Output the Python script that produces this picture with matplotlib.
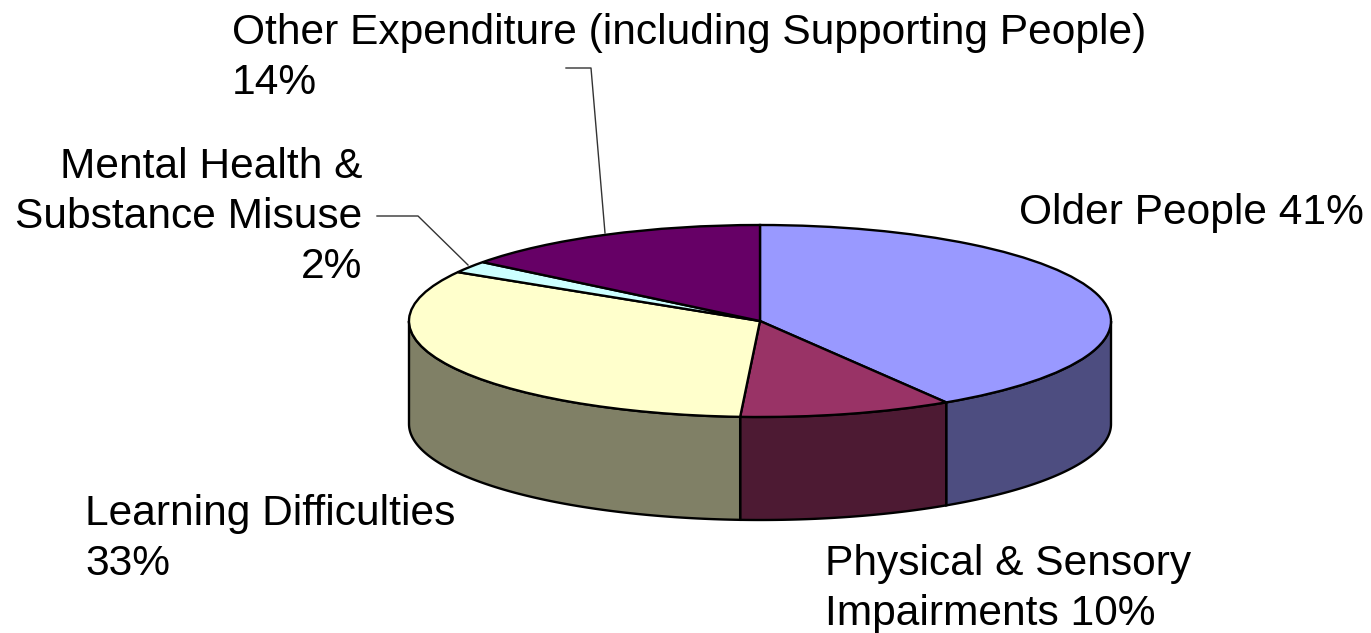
import matplotlib.pyplot as plt
import numpy as np

labels = ['Older People 41%', 'Physical & Sensory\nImpairments 10%', 'Learning Difficulties\n33%',
          'Mental Health &\nSubstance Misuse\n2%', 'Other Expenditure (including Supporting People)\n14%']
values = [41.1, 9.8, 32.6, 2.0, 14.5]
top_colors = ['#9999ff', '#993366', '#ffffcc', '#ccffff', '#660066']
side_colors = ['#4d4d80', '#4d1a33', '#808066', '#668080', '#330033']

W, H = 1371, 633
CX, CY, RX, RY, DEPTH = 760, 321, 351, 96, 103

fig = plt.figure(figsize=(W / 100, H / 100), dpi=100, facecolor='white')

# pie axes: the unit circle lands on the ellipse of the top face
ax = fig.add_axes([(CX - RX) / W, 1 - (CY + RY) / H, 2 * RX / W, 2 * RY / H])
ax.pie(values, colors=top_colors, startangle=90, counterclock=False, radius=1,
       wedgeprops={'edgecolor': 'black', 'linewidth': 1.7, 'zorder': 3})
ax.set_aspect('auto')
ax.set_xlim(-1, 1)
ax.set_ylim(-1, 1)
ax.axis('off')
for p in ax.patches:
    p.set_clip_on(False)

# side wall, only the front half of the ellipse shows
drop = 2 * DEPTH / (2 * RY)
edges = np.cumsum([0] + values) / sum(values) * 2 * np.pi
for i in range(len(values)):
    a0, a1 = edges[i], edges[i + 1]
    a0 = max(a0, np.pi / 2)
    a1 = min(a1, 3 * np.pi / 2)
    if a1 <= a0:
        continue
    t = np.linspace(a0, a1, 100)
    xs = np.sin(t)
    ys = np.cos(t)
    ax.fill(np.r_[xs, xs[::-1]], np.r_[ys, ys[::-1] - drop], facecolor=side_colors[i],
            edgecolor='black', linewidth=1.7, zorder=2, clip_on=False)

# text and leader lines in pixel coordinates of the figure
over = fig.add_axes([0, 0, 1, 1], zorder=5)
over.set_xlim(0, W)
over.set_ylim(H, 0)
over.axis('off')
over.patch.set_alpha(0)

font = {'family': ['Liberation Sans', 'DejaVu Sans'], 'fontsize': 30.6, 'color': 'black', 'linespacing': 1.33}
over.text(1019, 213, labels[0], ha='left', va='center', **font)
over.text(825, 589, labels[1], ha='left', va='center', **font)
over.text(85, 539, labels[2], ha='left', va='center', **font)
over.text(362, 217, labels[3], ha='right', va='center', multialignment='right', **font)
over.text(232, 58, labels[4], ha='left', va='center', **font)

over.plot([566, 591, 605], [68, 68, 233], color='#333333', lw=1)
over.plot([377, 418, 468], [216, 216, 265], color='#333333', lw=1)

fig.savefig('out.png', dpi=100)
